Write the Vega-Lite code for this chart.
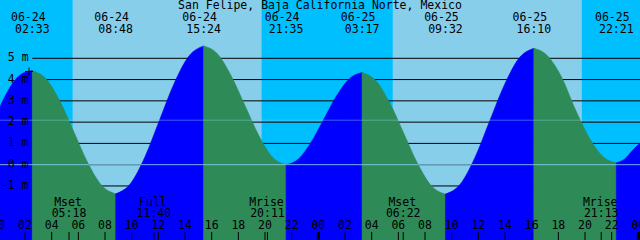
{
  "$schema": "https://vega.github.io/schema/vega-lite/v6.json",
  "width": 640,
  "height": 240,
  "padding": 0,
  "autosize": {"type": "none"},
  "background": "#00bfff",
  "config": {"view": {"stroke": null}, "axis": {"disable": true}},
  "datasets": {
    "sky": [
      {"a": 0.125, "b": 5.57, "k": "night"},
      {"a": 5.57, "b": 19.76, "k": "day"},
      {"a": 19.76, "b": 29.58, "k": "night"},
      {"a": 29.58, "b": 43.77, "k": "day"},
      {"a": 43.77, "b": 48.125, "k": "night"}
    ],
    "levels": [
      {"lv": 5, "lab": "5 m"}, {"lv": 4, "lab": "4 m"}, {"lv": 3, "lab": "3 m"},
      {"lv": 2, "lab": "2 m"}, {"lv": 1, "lab": "1 m"}, {"lv": 0, "lab": "0 m"},
      {"lv": -1, "lab": "-1 m"}
    ],
    "tide": [
      {"t": 0.125, "lv": 2.73, "seg": 0, "dir": "rise"},
      {"t": 0.75, "lv": 3.5, "seg": 0, "dir": "rise"},
      {"t": 1.35, "lv": 4.05, "seg": 0, "dir": "rise"},
      {"t": 1.95, "lv": 4.33, "seg": 0, "dir": "rise"},
      {"t": 2.55, "lv": 4.42, "seg": 0, "dir": "rise"},
      {"t": 2.55, "lv": 4.42, "seg": 1, "dir": "fall"},
      {"t": 3.592, "lv": 4.03, "seg": 1, "dir": "fall"},
      {"t": 4.633, "lv": 2.97, "seg": 1, "dir": "fall"},
      {"t": 5.675, "lv": 1.53, "seg": 1, "dir": "fall"},
      {"t": 6.717, "lv": 0.08, "seg": 1, "dir": "fall"},
      {"t": 7.758, "lv": -0.98, "seg": 1, "dir": "fall"},
      {"t": 8.8, "lv": -1.37, "seg": 1, "dir": "fall"},
      {"t": 8.8, "lv": -1.37, "seg": 2, "dir": "rise"},
      {"t": 9.9, "lv": -0.9, "seg": 2, "dir": "rise"},
      {"t": 11.0, "lv": 0.37, "seg": 2, "dir": "rise"},
      {"t": 12.1, "lv": 2.11, "seg": 2, "dir": "rise"},
      {"t": 13.2, "lv": 3.84, "seg": 2, "dir": "rise"},
      {"t": 14.3, "lv": 5.11, "seg": 2, "dir": "rise"},
      {"t": 15.4, "lv": 5.58, "seg": 2, "dir": "rise"},
      {"t": 15.4, "lv": 5.58, "seg": 3, "dir": "fall"},
      {"t": 16.43, "lv": 5.21, "seg": 3, "dir": "fall"},
      {"t": 17.46, "lv": 4.18, "seg": 3, "dir": "fall"},
      {"t": 18.49, "lv": 2.79, "seg": 3, "dir": "fall"},
      {"t": 19.52, "lv": 1.39, "seg": 3, "dir": "fall"},
      {"t": 20.55, "lv": 0.36, "seg": 3, "dir": "fall"},
      {"t": 21.583, "lv": -0.01, "seg": 3, "dir": "fall"},
      {"t": 21.583, "lv": -0.01, "seg": 4, "dir": "rise"},
      {"t": 22.53, "lv": 0.28, "seg": 4, "dir": "rise"},
      {"t": 23.48, "lv": 1.08, "seg": 4, "dir": "rise"},
      {"t": 24.43, "lv": 2.16, "seg": 4, "dir": "rise"},
      {"t": 25.38, "lv": 3.25, "seg": 4, "dir": "rise"},
      {"t": 26.33, "lv": 4.04, "seg": 4, "dir": "rise"},
      {"t": 27.283, "lv": 4.33, "seg": 4, "dir": "rise"},
      {"t": 27.283, "lv": 4.33, "seg": 5, "dir": "fall"},
      {"t": 28.32, "lv": 3.95, "seg": 5, "dir": "fall"},
      {"t": 29.36, "lv": 2.9, "seg": 5, "dir": "fall"},
      {"t": 30.405, "lv": 1.48, "seg": 5, "dir": "fall"},
      {"t": 31.447, "lv": 0.05, "seg": 5, "dir": "fall"},
      {"t": 32.49, "lv": -1.0, "seg": 5, "dir": "fall"},
      {"t": 33.533, "lv": -1.38, "seg": 5, "dir": "fall"},
      {"t": 33.533, "lv": -1.38, "seg": 6, "dir": "rise"},
      {"t": 34.64, "lv": -0.92, "seg": 6, "dir": "rise"},
      {"t": 35.74, "lv": 0.33, "seg": 6, "dir": "rise"},
      {"t": 36.85, "lv": 2.05, "seg": 6, "dir": "rise"},
      {"t": 37.96, "lv": 3.76, "seg": 6, "dir": "rise"},
      {"t": 39.06, "lv": 5.01, "seg": 6, "dir": "rise"},
      {"t": 40.167, "lv": 5.47, "seg": 6, "dir": "rise"},
      {"t": 40.167, "lv": 5.47, "seg": 7, "dir": "fall"},
      {"t": 41.2, "lv": 5.11, "seg": 7, "dir": "fall"},
      {"t": 42.23, "lv": 4.13, "seg": 7, "dir": "fall"},
      {"t": 43.26, "lv": 2.62, "seg": 7, "dir": "fall"},
      {"t": 44.29, "lv": 1.3, "seg": 7, "dir": "fall"},
      {"t": 45.32, "lv": 0.4, "seg": 7, "dir": "fall"},
      {"t": 46.35, "lv": 0.09, "seg": 7, "dir": "fall"},
      {"t": 46.35, "lv": 0.09, "seg": 8, "dir": "rise"},
      {"t": 47.0, "lv": 0.28, "seg": 8, "dir": "rise"},
      {"t": 47.5, "lv": 0.63, "seg": 8, "dir": "rise"},
      {"t": 48.125, "lv": 1.02, "seg": 8, "dir": "rise"}
    ],
    "events": [
      {"t": 2.55, "d": "06-24", "tm": "02:33"},
      {"t": 8.8, "d": "06-24", "tm": "08:48"},
      {"t": 15.4, "d": "06-24", "tm": "15:24"},
      {"t": 21.583, "d": "06-24", "tm": "21:35"},
      {"t": 27.283, "d": "06-25", "tm": "03:17"},
      {"t": 33.533, "d": "06-25", "tm": "09:32"},
      {"t": 40.167, "d": "06-25", "tm": "16:10"},
      {"t": 46.35, "d": "06-25", "tm": "22:21"}
    ],
    "moon": [
      {"t": 5.3, "n": "Mset", "tm": "05:18"},
      {"t": 11.667, "n": "Full", "tm": "11:40"},
      {"t": 20.183, "n": "Mrise", "tm": "20:11"},
      {"t": 30.367, "n": "Mset", "tm": "06:22"},
      {"t": 45.217, "n": "Mrise", "tm": "21:13"}
    ],
    "hours": [
      {"h": 0, "lab": "00"}, {"h": 2, "lab": "02"}, {"h": 4, "lab": "04"}, {"h": 6, "lab": "06"},
      {"h": 8, "lab": "08"}, {"h": 10, "lab": "10"}, {"h": 12, "lab": "12"}, {"h": 14, "lab": "14"},
      {"h": 16, "lab": "16"}, {"h": 18, "lab": "18"}, {"h": 20, "lab": "20"}, {"h": 22, "lab": "22"},
      {"h": 24, "lab": "00"}, {"h": 26, "lab": "02"}, {"h": 28, "lab": "04"}, {"h": 30, "lab": "06"},
      {"h": 32, "lab": "08"}, {"h": 34, "lab": "10"}, {"h": 36, "lab": "12"}, {"h": 38, "lab": "14"},
      {"h": 40, "lab": "16"}, {"h": 42, "lab": "18"}, {"h": 44, "lab": "20"}, {"h": 46, "lab": "22"},
      {"h": 48, "lab": "00"}
    ],
    "marker": [{"t": 2.3, "lv": 4.38}],
    "title": [{"t": 24.125, "s": "San Felipe, Baja California Norte, Mexico"}]
  },
  "layer": [
    {
      "data": {"name": "sky"},
      "mark": {"type": "rect"},
      "encoding": {
        "x": {"field": "a", "type": "quantitative", "scale": {"domain": [0.125, 48.125], "nice": false, "zero": false}},
        "x2": {"field": "b"},
        "color": {"field": "k", "type": "nominal", "scale": {"domain": ["night", "day"], "range": ["#00bfff", "#87ceeb"]}, "legend": null}
      }
    },
    {
      "data": {"name": "levels"},
      "mark": {"type": "rule", "color": "#000000", "strokeWidth": 1},
      "encoding": {
        "y": {"field": "lv", "type": "quantitative", "scale": {"domain": [-3.54, 7.74], "nice": false, "zero": false}},
        "x": {"datum": 2.55, "type": "quantitative"},
        "x2": {"datum": 48.125}
      }
    },
    {
      "data": {"name": "tide"},
      "mark": {"type": "area", "interpolate": "monotone", "strokeWidth": 0.6},
      "encoding": {
        "x": {"field": "t", "type": "quantitative", "scale": {"domain": [0.125, 48.125], "nice": false, "zero": false}},
        "y": {"field": "lv", "type": "quantitative", "scale": {"domain": [-3.54, 7.74], "nice": false, "zero": false}},
        "y2": {"datum": -3.54},
        "detail": {"field": "seg", "type": "nominal"},
        "color": {"field": "dir", "type": "nominal", "scale": {"domain": ["rise", "fall"], "range": ["#0000ff", "#2e8b57"]}, "legend": null},
        "stroke": {"field": "dir", "type": "nominal", "scale": {"domain": ["rise", "fall"], "range": ["#0000ff", "#2e8b57"]}, "legend": null}
      }
    },
    {
      "data": {"name": "marker"},
      "mark": {"type": "rule", "color": "#87ceeb", "opacity": 0.45, "strokeWidth": 1},
      "encoding": {"y": {"datum": 2.09, "type": "quantitative"}}
    },
    {
      "data": {"name": "marker"},
      "mark": {"type": "rule", "color": "#87ceeb", "opacity": 0.85, "strokeWidth": 1},
      "encoding": {"y": {"datum": 0, "type": "quantitative"}}
    },
    {
      "data": {"name": "hours"},
      "mark": {"type": "rule", "color": "#000000", "strokeWidth": 1},
      "encoding": {
        "x": {"field": "h", "type": "quantitative"},
        "y": {"datum": -3.54, "type": "quantitative"},
        "y2": {"datum": -3.164}
      }
    },
    {
      "data": {"name": "hours"},
      "transform": [{"filter": "datum.h % 24 == 0"}],
      "mark": {"type": "rule", "color": "#000000", "strokeWidth": 3},
      "encoding": {
        "x": {"field": "h", "type": "quantitative"},
        "y": {"datum": -3.54, "type": "quantitative"},
        "y2": {"datum": -3.164}
      }
    },
    {
      "data": {"name": "moon"},
      "mark": {"type": "rule", "color": "#000000", "strokeWidth": 1},
      "encoding": {
        "x": {"field": "t", "type": "quantitative"},
        "y": {"datum": -3.54, "type": "quantitative"},
        "y2": {"datum": -3.164}
      }
    },
    {
      "data": {"name": "hours"},
      "mark": {"type": "text", "font": "DejaVu Sans Mono", "fontSize": 11.5, "color": "#000000", "baseline": "middle", "align": "center"},
      "encoding": {
        "x": {"field": "h", "type": "quantitative"},
        "y": {"datum": -2.87, "type": "quantitative"},
        "text": {"field": "lab"}
      }
    },
    {
      "data": {"name": "levels"},
      "mark": {"type": "text", "font": "DejaVu Sans Mono", "fontSize": 11.5, "color": "#000000", "baseline": "middle", "align": "right"},
      "encoding": {
        "x": {"datum": 2.27, "type": "quantitative"},
        "y": {"field": "lv", "type": "quantitative"},
        "text": {"field": "lab"}
      }
    },
    {
      "data": {"name": "events"},
      "mark": {"type": "text", "font": "DejaVu Sans Mono", "fontSize": 11.5, "color": "#000000", "baseline": "middle", "align": "center", "dx": -4},
      "encoding": {
        "x": {"field": "t", "type": "quantitative"},
        "y": {"datum": 6.9, "type": "quantitative"},
        "text": {"field": "d"}
      }
    },
    {
      "data": {"name": "events"},
      "mark": {"type": "text", "font": "DejaVu Sans Mono", "fontSize": 11.5, "color": "#000000", "baseline": "middle", "align": "center"},
      "encoding": {
        "x": {"field": "t", "type": "quantitative"},
        "y": {"datum": 6.33, "type": "quantitative"},
        "text": {"field": "tm"}
      }
    },
    {
      "data": {"name": "moon"},
      "mark": {"type": "text", "font": "DejaVu Sans Mono", "fontSize": 11.5, "color": "#000000", "baseline": "middle", "align": "center", "dx": -1},
      "encoding": {
        "x": {"field": "t", "type": "quantitative"},
        "y": {"datum": -1.78, "type": "quantitative"},
        "text": {"field": "n"}
      }
    },
    {
      "data": {"name": "moon"},
      "mark": {"type": "text", "font": "DejaVu Sans Mono", "fontSize": 11.5, "color": "#000000", "baseline": "middle", "align": "center"},
      "encoding": {
        "x": {"field": "t", "type": "quantitative"},
        "y": {"datum": -2.31, "type": "quantitative"},
        "text": {"field": "tm"}
      }
    },
    {
      "data": {"name": "title"},
      "mark": {"type": "text", "font": "DejaVu Sans Mono", "fontSize": 11.5, "color": "#000000", "baseline": "middle", "align": "center"},
      "encoding": {
        "x": {"field": "t", "type": "quantitative"},
        "y": {"datum": 7.45, "type": "quantitative"},
        "text": {"field": "s"}
      }
    },
    {
      "data": {"name": "marker"},
      "mark": {"type": "point", "shape": "M-1,0H1M0,-1V1", "filled": false, "stroke": "#000000", "strokeWidth": 1, "size": 64, "opacity": 1},
      "encoding": {
        "x": {"field": "t", "type": "quantitative"},
        "y": {"field": "lv", "type": "quantitative"}
      }
    }
  ],
  "resolve": {"scale": {"color": "independent", "stroke": "independent"}}
}
